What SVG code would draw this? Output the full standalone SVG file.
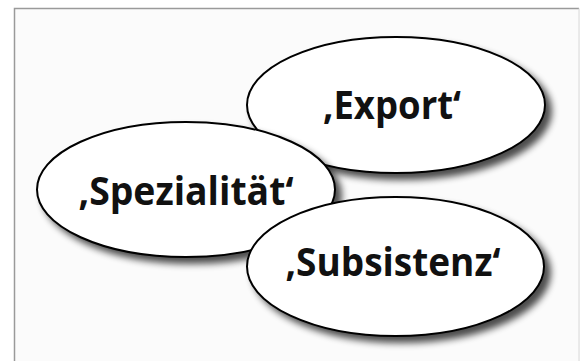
<svg xmlns="http://www.w3.org/2000/svg" width="583" height="361" viewBox="0 0 583 361">
  <defs>
    <filter id="drop" x="-20%" y="-20%" width="150%" height="160%">
      <feGaussianBlur in="SourceAlpha" stdDeviation="3.5"/>
      <feOffset dx="6" dy="6" result="blur"/>
      <feComponentTransfer>
        <feFuncA type="linear" slope="0.7"/>
      </feComponentTransfer>
      <feMerge>
        <feMergeNode/>
        <feMergeNode in="SourceGraphic"/>
      </feMerge>
    </filter>
  </defs>
  <style>
    .bubble { fill: #ffffff; stroke: #000000; stroke-width: 2; }
    .label { font-family: "Open Sans", "DejaVu Sans", sans-serif; font-weight: bold; font-size: 39px; fill: #111111; text-anchor: middle; }
  </style>

  <!-- page background and frame -->
  <rect x="0" y="0" width="583" height="361" fill="#ffffff"/>
  <rect x="14" y="8" width="566" height="360" fill="#fbfbfb"/>
  <path d="M14.5 361 V8.5 H579" fill="none" stroke="#9a9a9a" stroke-width="1.5"/>
  <line x1="579" y1="8.5" x2="579" y2="361" stroke="#d8d8d8" stroke-width="1"/>

  <g id="export">
    <ellipse class="bubble" cx="396" cy="105" rx="149" ry="68" filter="url(#drop)"/>
    <text class="label" x="392" y="119" textLength="138" lengthAdjust="spacingAndGlyphs">‚Export‘</text>
  </g>

  <g id="spezialitaet">
    <ellipse class="bubble" cx="186" cy="189.5" rx="149" ry="67.5" filter="url(#drop)"/>
    <text class="label" x="186" y="205" textLength="215" lengthAdjust="spacingAndGlyphs">‚Spezialität‘</text>
  </g>

  <g id="subsistenz">
    <ellipse class="bubble" cx="395.5" cy="266.5" rx="148.5" ry="69.5" filter="url(#drop)"/>
    <text class="label" x="393" y="276" textLength="215" lengthAdjust="spacingAndGlyphs">‚Subsistenz‘</text>
  </g>

  <g id="connectors"/>
</svg>
